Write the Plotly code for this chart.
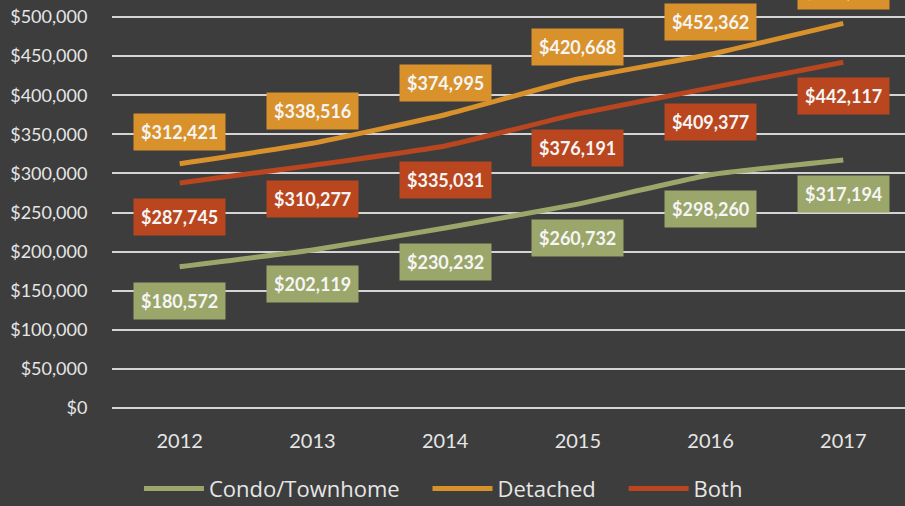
import plotly.graph_objects as go

years = ["2012", "2013", "2014", "2015", "2016", "2017"]
condo = [180572, 202119, 230232, 260732, 298260, 317194]
detached = [312421, 338516, 374995, 420668, 452362, 491795]
both = [287745, 310277, 335031, 376191, 409377, 442117]
names = ["Condo/Townhome", "Detached", "Both"]

series = [
    (names[0], condo, "#9ba66a", -34, "\u00a0\u00a0\u00a0\u00a0"),
    (names[1], detached, "#d9912b", 32, "\u00a0\u00a0\u00a0\u00a0"),
    (names[2], both, "#b9461f", -34, ""),
]

fig = go.Figure()
annotations = []
for name, vals, color, shift, pad in series:
    fig.add_trace(go.Scatter(
        x=years, y=vals, name=name + pad, mode="lines",
        line=dict(color=color, width=5, shape="spline", smoothing=0.4),
    ))
    for i, v in enumerate(vals):
        annotations.append(dict(
            x=i, y=v, xref="x", yref="y", yshift=shift,
            text=f"<b>${v:,}</b>", showarrow=False,
            bgcolor=color, borderpad=7,
            font=dict(family="Lato, Noto Sans", size=18, color="#f5f5f5"),
        ))

bg = "#3d3d3d"
fig.update_layout(
    width=905, height=506,
    paper_bgcolor=bg, plot_bgcolor=bg,
    margin=dict(l=112, r=0, t=0, b=98, autoexpand=False),
    showlegend=True,
    legend=dict(orientation="h", xref="container", yref="container",
                x=0.49, xanchor="center", y=0.034, yanchor="middle",
                font=dict(family="Open Sans, Lato", size=22, color="#e6e6e6"),
                itemwidth=60, tracegroupgap=0),
    annotations=annotations,
    xaxis=dict(
        type="category",
        range=[-0.51, 5.465], showgrid=False, zeroline=False, showline=False,
        ticks="outside", ticklen=15, tickcolor=bg,
        tickfont=dict(family="Lato, Noto Sans", size=20, color="#e6e6e6"),
    ),
    yaxis=dict(
        range=[0, 521740], tickvals=list(range(0, 500001, 50000)),
        ticktext=[f"${v:,}" for v in range(0, 500001, 50000)],
        showgrid=True, gridcolor="#d4d4d4", gridwidth=2,
        zeroline=True, zerolinecolor="#d4d4d4", zerolinewidth=2, showline=False,
        ticks="outside", ticklen=20, tickcolor=bg,
        tickfont=dict(family="Lato, Noto Sans", size=18, color="#e6e6e6"),
    ),
)

fig.write_html("out.html", config={"displayModeBar": False},
               post_script="document.body.style.margin='0';document.body.style.overflow='hidden';")
